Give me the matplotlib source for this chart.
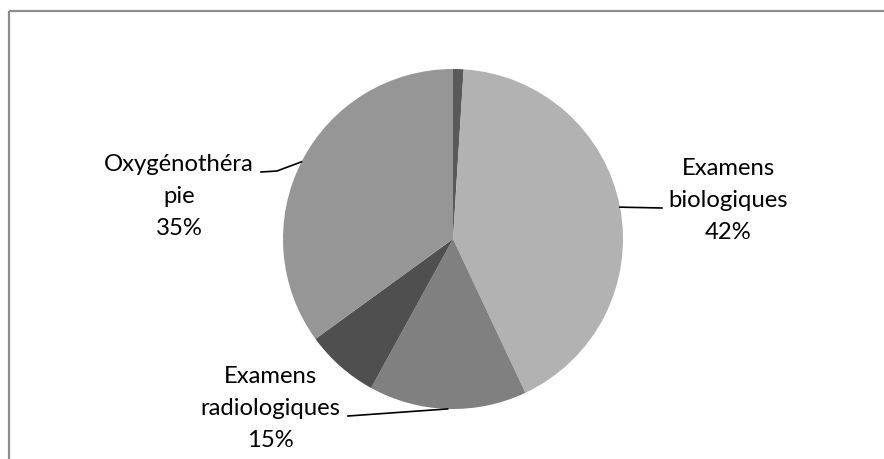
import matplotlib
matplotlib.use("Agg")
import matplotlib.pyplot as plt
import numpy as np

# Data
categories = ["", "Examens\nbiologiques", "Examens\nradiologiques", "", "Oxygénothéra\npie"]
values = [1, 42, 15, 7, 35]
colors = ["#5a5a5a", "#b2b2b2", "#808080", "#4f4f4f", "#969696"]
show_label = [False, True, True, False, True]

W, H = 884, 459
fig = plt.figure(figsize=(W / 100, H / 100), dpi=100)
ax = fig.add_axes([0, 0, 1, 1])
ax.set_xlim(0, W)
ax.set_ylim(0, H)
ax.set_aspect("equal")
ax.axis("off")

def Y(y):
    return H - y

cx, cy, R = 453, 239, 170
wedges, _ = ax.pie(values, colors=colors, startangle=90, counterclock=False,
                   center=(cx, Y(cy)), radius=R, frame=True,
                   wedgeprops=dict(linewidth=0))
ax.set_xlim(0, W)
ax.set_ylim(0, H)
ax.axis("off")

# Border
ax.plot([8.5, W], [Y(10.5), Y(10.5)], color="#8c8c8c", lw=1.6, solid_capstyle="butt")
ax.plot([8.5, 8.5], [Y(10.5), 0], color="#8c8c8c", lw=1.6, solid_capstyle="butt")

font = dict(family=["Lato", "DejaVu Sans"], fontsize=17.2, color="#000000")
total = sum(values)
# label layout: (text center x, first baseline y, leader path after edge point)
layout = {
    1: dict(tx=728, ty=175, path=[(662, 208)]),
    2: dict(tx=270, ty=383, path=[(348, 416)]),
    4: dict(tx=179, ty=171, path=[(277, 171), (261, 172)]),
}
cum = 0.0
for i, v in enumerate(values):
    mid = (cum + v / 2) / total
    cum += v
    if not show_label[i]:
        continue
    ang = 2 * np.pi * mid
    ex, ey = cx + R * np.sin(ang), cy - R * np.cos(ang)
    L = layout[i]
    pts = [(ex, ey)] + L["path"]
    ax.plot([p[0] for p in pts], [Y(p[1]) for p in pts], color="black", lw=1.2)
    lines = categories[i].split("\n") + [f"{round(100 * v / total)}%"]
    for k, line in enumerate(lines):
        ax.text(L["tx"], Y(L["ty"] + 32 * k), line, ha="center", va="baseline", **font)

fig.savefig("out.png", dpi=100, facecolor="white")
